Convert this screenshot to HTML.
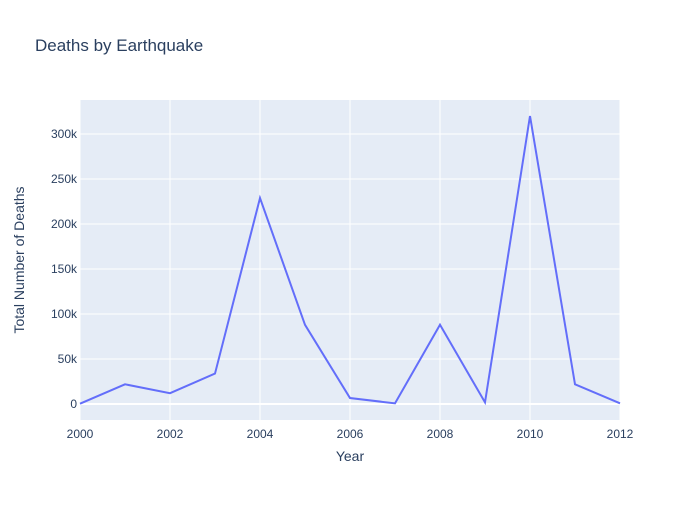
<!DOCTYPE html>
<html><head><meta charset="utf-8"><style>
body{margin:0;background:#fff;font-family:"Liberation Sans",sans-serif;}
svg text{font-family:"Liberation Sans",sans-serif;}
</style></head><body>
<svg id="chart" width="700" height="500">
<rect width="700" height="500" fill="#fff"/>
<text x="35" y="51" font-size="17" fill="#2a3f5f">Deaths by Earthquake</text>
<rect x="80" y="100" width="540" height="320" fill="#e5ecf6"/>
<g id="grid"></g>
<path id="line" fill="none" stroke="#636efa" stroke-width="2"/>
<g id="labels"></g>
<text x="350" y="461" font-size="14" fill="#2a3f5f" text-anchor="middle">Year</text>
<text x="24" y="260" font-size="14" fill="#2a3f5f" text-anchor="middle" transform="rotate(-90 24 260)">Total Number of Deaths</text>
</svg>
<script>
const years=[2000,2001,2002,2003,2004,2005,2006,2007,2008,2009,2010,2011,2012];
const deaths=[300,21900,12000,33800,228800,88000,6600,700,88000,1800,320000,21900,700];
const xTicks=[2000,2002,2004,2006,2008,2010,2012];
const yTicks=[0,50000,100000,150000,200000,250000,300000];
const yTickLabels=["0","50k","100k","150k","200k","250k","300k"];
const X0=80,X1=620,Y0=420,Y1=100,xmin=2000,xmax=2012,ymin=-17800,ymax=337800;
const sx=v=>X0+(v-xmin)/(xmax-xmin)*(X1-X0);
const sy=v=>Y0-(v-ymin)/(ymax-ymin)*(Y0-Y1);
const NS="http://www.w3.org/2000/svg";
const grid=document.getElementById('grid'),labels=document.getElementById('labels');
function mk(tag,attrs,parent){const e=document.createElementNS(NS,tag);for(const k in attrs)e.setAttribute(k,attrs[k]);parent.appendChild(e);return e;}
xTicks.forEach(t=>{
 const l=mk('line',{x1:sx(t),x2:sx(t),y1:Y1,y2:Y0,stroke:'#fff','stroke-width':1},grid);
 
 
 const tx=mk('text',{x:sx(t),y:Y0+18,'font-size':12,fill:'#2a3f5f','text-anchor':'middle'},labels);
 tx.textContent=t;
 
 
});
yTicks.forEach((t,i)=>{
 const l=mk('line',{x1:X0,x2:X1,y1:sy(t),y2:sy(t),stroke:'#fff','stroke-width':t===0?2:1},grid);
 
 
 const tx=mk('text',{x:X0-3,y:sy(t)+4,'font-size':12,fill:'#2a3f5f','text-anchor':'end'},labels);
 tx.textContent=yTickLabels[i];
 
 
});
document.getElementById('line').setAttribute('d',years.map((y,i)=>(i?'L':'M')+sx(y)+','+sy(deaths[i])).join(''));
</script>
</body></html>
